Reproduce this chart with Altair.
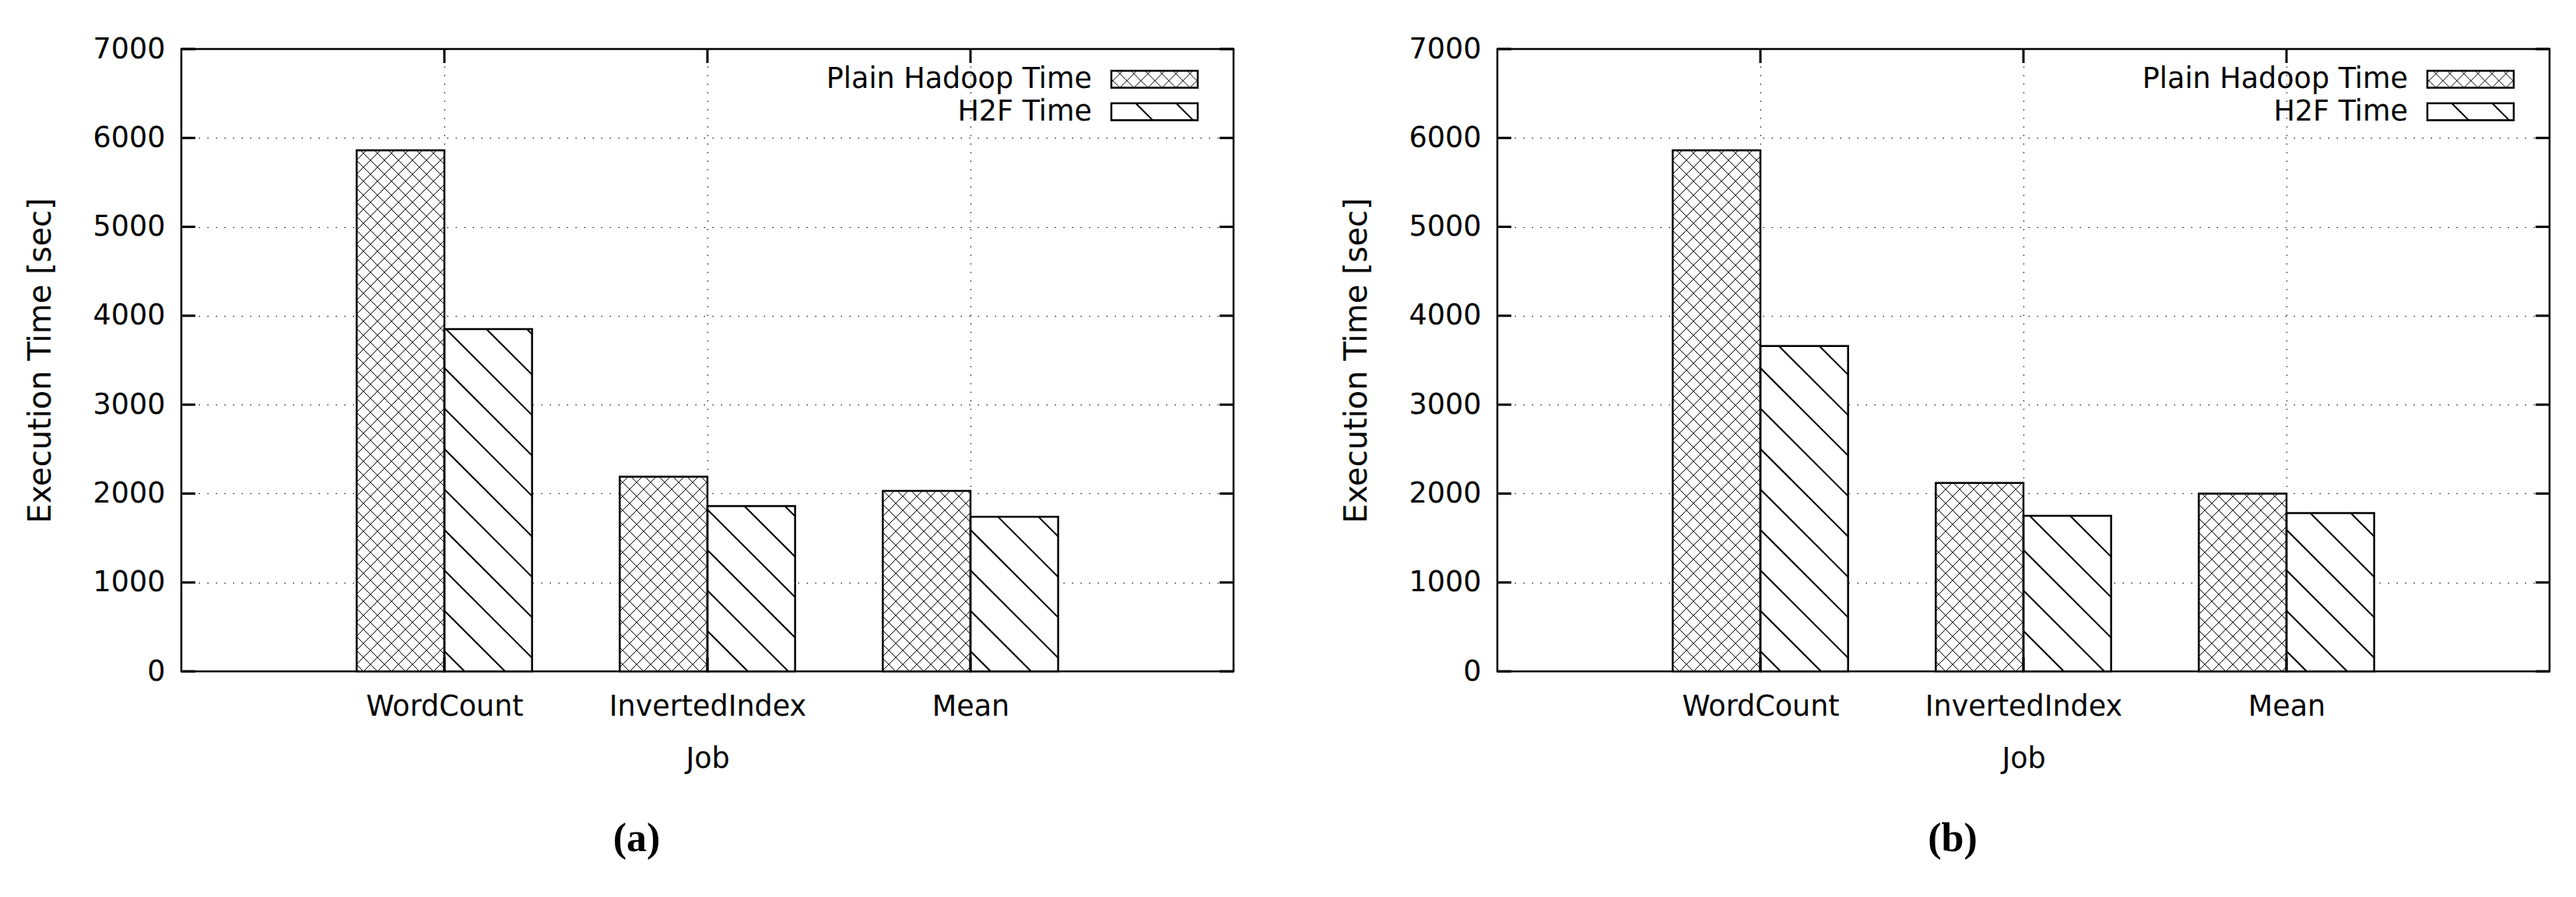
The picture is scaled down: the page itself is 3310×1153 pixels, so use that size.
import json
import altair as alt
import pandas as pd

# ---------------- data ----------------
JOBS = ["WordCount", "InvertedIndex", "Mean"]
SERIES = ["Plain Hadoop Time", "H2F Time"]
PLAIN_A = [5860, 2190, 2030]
H2F_A = [3850, 1860, 1740]
PLAIN_B = [5860, 2120, 2000]
H2F_B = [3660, 1750, 1780]
Y_TICKS = [0, 1000, 2000, 3000, 4000, 5000, 6000, 7000]
X_TICKS = [0, 1, 2]
PANEL_LABELS = ["(a)", "(b)"]

# ---------------- layout / style ----------------
W, H = 1352, 800
XMIN, XMAX = -1, 3
YMAX = 7000
PXU = W / (XMAX - XMIN)
PYU = H / YMAX
BOX = 1 / 3
FONT = "DejaVu Sans"
FS = 36.5
GRID_DASH = [1.5, 9.5]
TICK_LEN = 18
SPACING = 133

LEG_KEY_X0, LEG_KEY_X1 = 1195, 1306
LEG_ROW0, LEG_ROW_STEP, LEG_KEY_H = 28, 41.7, 21.7
LEG_TEXT_X = 1170

xscale = alt.Scale(domain=[XMIN, XMAX], nice=False, zero=False)
yscale = alt.Scale(domain=[0, YMAX], nice=False, zero=False)

xaxis = alt.Axis(values=X_TICKS, labelExpr=f"{json.dumps(JOBS)}[datum.value]",
                 title="Job", grid=True, gridDash=GRID_DASH, gridColor="black",
                 gridWidth=1, gridOpacity=1, ticks=False, domain=False,
                 labelPadding=27, titlePadding=31, labelFontSize=FS,
                 titleFontSize=FS, labelFlush=False, labelLimit=0, labelOverlap=False)
yaxis = alt.Axis(values=Y_TICKS, title="Execution Time [sec]", grid=True,
                 gridDash=GRID_DASH, gridColor="black", gridWidth=1, gridOpacity=1,
                 ticks=False, domain=False, labelPadding=21, titlePadding=47,
                 labelFontSize=FS, titleFontSize=40, format="d")


def X(field):
    return alt.X(field, scale=xscale, axis=xaxis)


def Y(field):
    return alt.Y(field, scale=yscale, axis=yaxis)


def add_hatch(chart, spacing, direction):
    """Clip a family of 45-degree lines (pixel space, y up) to rect [XL,XR]x[0,YT]."""
    if direction == 1:
        lo, hi = "datum.XL", "datum.XR + datum.YT"
    else:
        lo, hi = "-datum.XR", "datum.YT - datum.XL"
    chart = chart.transform_calculate(
        ks=f"sequence(ceil(({lo})/{spacing}), floor(({hi})/{spacing}) + 1)")
    chart = chart.transform_flatten(["ks"])
    chart = chart.transform_calculate(c=f"datum.ks * {spacing}")
    if direction == 1:
        chart = chart.transform_calculate(xa="max(datum.XL, datum.c - datum.YT)")
        chart = chart.transform_calculate(xb="min(datum.XR, datum.c)")
        chart = chart.transform_calculate(ya="datum.c - datum.xa")
        chart = chart.transform_calculate(yb="datum.c - datum.xb")
    else:
        chart = chart.transform_calculate(xa="max(datum.XL, -datum.c)")
        chart = chart.transform_calculate(xb="min(datum.XR, datum.YT - datum.c)")
        chart = chart.transform_calculate(ya="datum.xa + datum.c")
        chart = chart.transform_calculate(yb="datum.xb + datum.c")
    return chart.transform_filter("datum.xb - datum.xa > 0.3")


def seg_encode(chart, width):
    return chart.mark_rule(color="black", strokeWidth=width).encode(
        x=X("hx1:Q"), x2="hx2:Q", y=Y("hy1:Q"), y2="hy2:Q")


HATCH = [  # (series index, spacing px, direction, line width)
    (0, 18, 1, 1),
    (0, 18, -1, 1),
    (1, 52, 1, 2),
]


def panel(plain, h2f, label):
    rows = []
    for i, job in enumerate(JOBS):
        rows.append(dict(job=job, idx=i, sidx=0, series=SERIES[0], value=plain[i]))
        rows.append(dict(job=job, idx=i, sidx=1, series=SERIES[1], value=h2f[i]))
    df = pd.DataFrame(rows)

    base = (alt.Chart(df)
            .transform_calculate(x0=f"datum.idx - {BOX} + datum.sidx * {BOX}")
            .transform_calculate(x1=f"datum.x0 + {BOX}"))

    fill = base.mark_rect(fill="white", strokeWidth=0).encode(
        x=X("x0:Q"), x2="x1:Q", y=Y("value:Q"), y2=alt.datum(0))

    hb = (base.transform_calculate(XL=f"(datum.x0 - {XMIN}) * {PXU}")
          .transform_calculate(XR=f"(datum.x1 - {XMIN}) * {PXU}")
          .transform_calculate(YT=f"datum.value * {PYU}"))
    hatch_layers = []
    for sidx, sp, d, lw in HATCH:
        c = add_hatch(hb.transform_filter(f"datum.sidx == {sidx}"), sp, d)
        c = (c.transform_calculate(hx1=f"datum.xa / {PXU} + {XMIN}")
             .transform_calculate(hx2=f"datum.xb / {PXU} + {XMIN}")
             .transform_calculate(hy1=f"datum.ya / {PYU}")
             .transform_calculate(hy2=f"datum.yb / {PYU}"))
        hatch_layers.append(seg_encode(c, lw))

    outline = base.mark_rect(fillOpacity=0, stroke="black", strokeWidth=2.5).encode(
        x=X("x0:Q"), x2="x1:Q", y=Y("value:Q"), y2=alt.datum(0))

    # inward ticks (gnuplot style)
    ydf = pd.DataFrame({"t": Y_TICKS})
    xdf = pd.DataFrame({"t": X_TICKS})
    yt_left = alt.Chart(ydf).mark_rule(color="black", strokeWidth=3).encode(
        y=Y("t:Q"), x=alt.value(0), x2=alt.value(TICK_LEN))
    yt_right = alt.Chart(ydf).mark_rule(color="black", strokeWidth=3).encode(
        y=Y("t:Q"), x=alt.value(W - TICK_LEN), x2=alt.value(W))
    xt_top = alt.Chart(xdf).mark_rule(color="black", strokeWidth=3).encode(
        x=X("t:Q"), y=alt.value(0), y2=alt.value(TICK_LEN))
    xt_bot = alt.Chart(xdf).mark_rule(color="black", strokeWidth=3).encode(
        x=X("t:Q"), y=alt.value(H - TICK_LEN), y2=alt.value(H))

    # legend (inside plot, top right), positions converted to data units
    ldf = pd.DataFrame({"series": SERIES, "sidx": [0, 1]})
    lbase = (alt.Chart(ldf)
             .transform_calculate(KX0=f"{LEG_KEY_X0}", KX1=f"{LEG_KEY_X1}")
             .transform_calculate(KT=f"{LEG_ROW0} + datum.sidx * {LEG_ROW_STEP}")
             .transform_calculate(KB=f"datum.KT + {LEG_KEY_H}")
             .transform_calculate(lx0=f"datum.KX0 / {PXU} + {XMIN}",
                                  lx1=f"datum.KX1 / {PXU} + {XMIN}",
                                  ly0=f"({H} - datum.KT) / {PYU}",
                                  ly1=f"({H} - datum.KB) / {PYU}",
                                  tx=f"{LEG_TEXT_X} / {PXU} + {XMIN}",
                                  ty=f"({H} - (datum.KT + datum.KB) / 2) / {PYU}"))
    lkey = lbase.mark_rect(fill="white", strokeWidth=0).encode(
        x=X("lx0:Q"), x2="lx1:Q", y=Y("ly0:Q"), y2="ly1:Q")
    lout = lbase.mark_rect(fillOpacity=0, stroke="black", strokeWidth=2.5).encode(
        x=X("lx0:Q"), x2="lx1:Q", y=Y("ly0:Q"), y2="ly1:Q")
    ltext = lbase.mark_text(align="right", baseline="middle", font=FONT,
                            fontSize=FS, color="black").encode(
        x=X("tx:Q"), y=Y("ty:Q"), text="series:N")
    lh = (lbase.transform_calculate(XL="datum.KX0", XR="datum.KX1", YT=f"{LEG_KEY_H}"))
    lhatch = []
    for sidx, sp, d, lw in HATCH:
        c = add_hatch(lh.transform_filter(f"datum.sidx == {sidx}"), sp, d)
        c = (c.transform_calculate(hx1=f"datum.xa / {PXU} + {XMIN}")
             .transform_calculate(hx2=f"datum.xb / {PXU} + {XMIN}")
             .transform_calculate(hy1=f"({H} - (datum.KB - datum.ya)) / {PYU}")
             .transform_calculate(hy2=f"({H} - (datum.KB - datum.yb)) / {PYU}"))
        lhatch.append(seg_encode(c, lw))

    lab = alt.Chart(pd.DataFrame({"label": [label]})).mark_text(
        font="Liberation Serif", fontWeight="bold", fontSize=52, color="black",
        align="center", baseline="middle").encode(
        text="label:N", x=alt.value(585), y=alt.value(1015))

    return alt.layer(fill, *hatch_layers, outline, yt_left, yt_right, xt_top, xt_bot,
                     lkey, *lhatch, lout, ltext, lab).properties(width=W, height=H)


chart = (alt.hconcat(panel(PLAIN_A, H2F_A, PANEL_LABELS[0]),
                     panel(PLAIN_B, H2F_B, PANEL_LABELS[1]), spacing=SPACING)
         .configure_view(stroke="black", strokeWidth=2.5)
         .configure_axis(labelFont=FONT, titleFont=FONT, labelColor="black",
                         titleColor="black", titleFontWeight="normal")
         .properties(padding={"left": 22, "top": 35, "right": 5, "bottom": 5},
                     background="white"))

chart.save("out.html", embed_options={"renderer": "svg", "actions": False})
